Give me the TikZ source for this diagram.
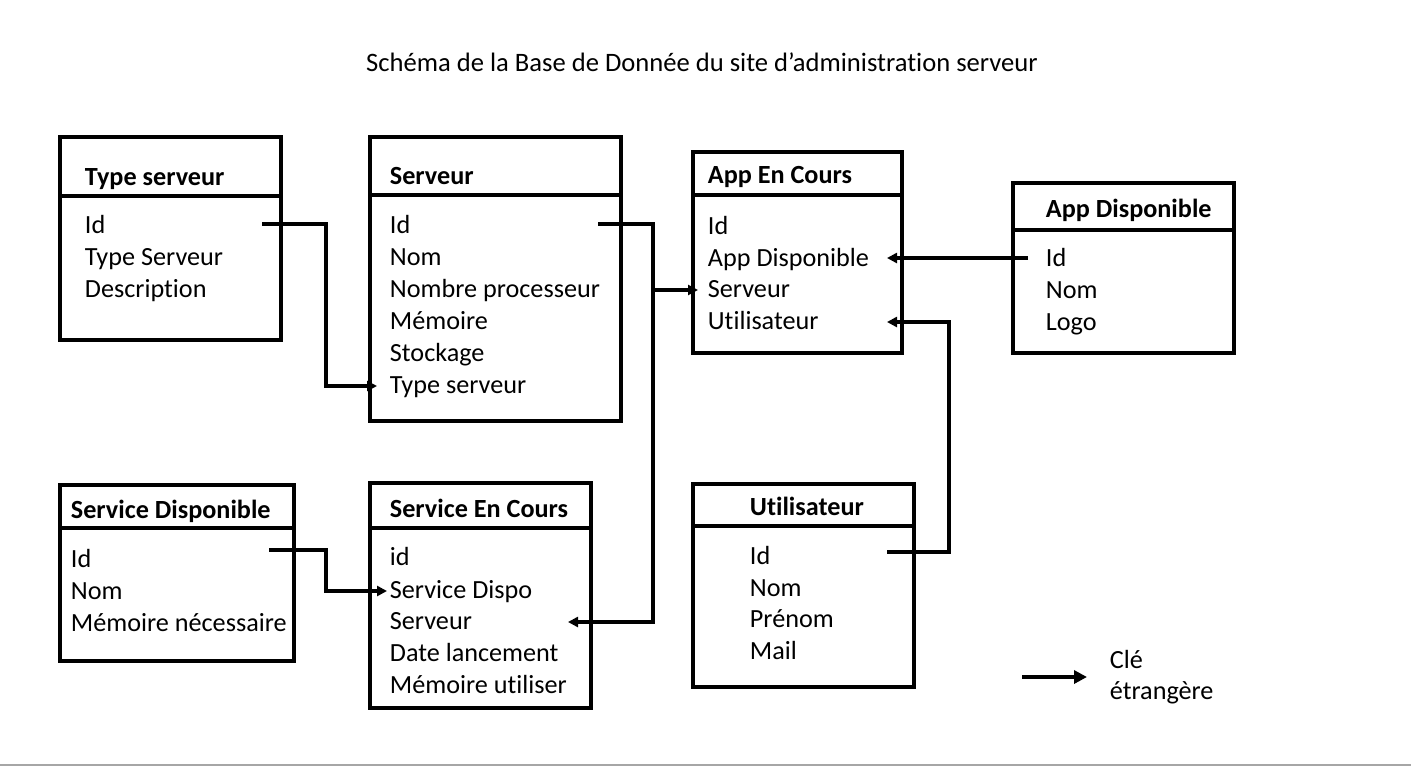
\documentclass[tikz,border=0pt]{standalone}
\usepackage{fontspec}
\setmainfont{Carlito}[Ligatures=NoCommon]
\usetikzlibrary{arrows.meta, positioning}

\begin{document}
\begin{tikzpicture}[x=1pt, y=-1pt, line width=3.8pt,
    table/.style={rectangle, draw, anchor=north west, inner sep=0pt, outer sep=0pt},
    head/.style={anchor=base west, inner sep=0pt, xshift=-2pt, font=\bfseries\fontsize{26.2}{30}\selectfont},
    field/.style={anchor=base west, inner sep=0pt, xshift=-2pt, text height=19pt, text depth=5pt, font=\fontsize{26.2}{30}\selectfont},
    fk/.style={-{Triangle[length=10pt, width=10pt]}}]
    \useasboundingbox (0,0) rectangle (1411,766);

    \node (title) [font=\fontsize{26.6}{30}\selectfont] at (702,62) {Schéma de la Base de Donnée du site d’administration serveur};

    % tables
    \node (ts) [table, minimum width=221pt, minimum height=203pt] at (60,137) {};
    \draw ([yshift=-59pt]ts.north west) -- ([yshift=-59pt]ts.north east);
    \node (tsHead) [head] at (85,185) {Type serveur};
    \node (tsId) [field] at (85,233) {Id};
    \node (tsType) [field] at (85,265) {Type Serveur};
    \node (tsDesc) [field] at (85,297) {Description};

    \node (srv) [table, minimum width=251pt, minimum height=284pt] at (370,137) {};
    \draw ([yshift=-58pt]srv.north west) -- ([yshift=-58pt]srv.north east);
    \node (srvHead) [head] at (390,184) {Serveur};
    \node (srvId) [field] at (390,233) {Id};
    \node (srvNom) [field] at (390,265) {Nom};
    \node (srvProc) [field] at (390,297) {Nombre processeur};
    \node (srvMem) [field] at (390,329) {Mémoire};
    \node (srvSto) [field] at (390,361) {Stockage};
    \node (srvType) [field] at (390,393) {Type serveur};

    \node (aec) [table, minimum width=209pt, minimum height=201pt] at (693,152) {};
    \draw ([yshift=-43pt]aec.north west) -- ([yshift=-43pt]aec.north east);
    \node (aecHead) [head] at (708,183) {App En Cours};
    \node (aecId) [field] at (708,234) {Id};
    \node (aecAd) [field] at (708,266) {App Disponible};
    \node (aecSrv) [field] at (708,297) {Serveur};
    \node (aecUser) [field] at (708,329) {Utilisateur};

    \node (ad) [table, minimum width=221pt, minimum height=170pt] at (1013,183) {};
    \draw ([yshift=-47pt]ad.north west) -- ([yshift=-47pt]ad.north east);
    \node (adHead) [head] at (1046,217) {App Disponible};
    \node (adId) [field] at (1046,266) {Id};
    \node (adNom) [field] at (1046,298) {Nom};
    \node (adLogo) [field] at (1046,330) {Logo};

    \node (sd) [table, minimum width=234pt, minimum height=176pt] at (60,485) {};
    \draw ([yshift=-43pt]sd.north west) -- ([yshift=-43pt]sd.north east);
    \node (sdHead) [head] at (71,518) {Service Disponible};
    \node (sdId) [field] at (71,567) {Id};
    \node (sdNom) [field] at (71,599) {Nom};
    \node (sdMem) [field] at (71,631) {Mémoire nécessaire};

    \node (sec) [table, minimum width=221pt, minimum height=225pt] at (370,483) {};
    \draw ([yshift=-45pt]sec.north west) -- ([yshift=-45pt]sec.north east);
    \node (secHead) [head] at (390,517) {Service En Cours};
    \node (secId) [field] at (390,565) {id};
    \node (secDispo) [field] at (390,598) {Service Dispo};
    \node (secSrv) [field] at (390,629) {Serveur};
    \node (secDate) [field] at (390,661) {Date lancement};
    \node (secMem) [field] at (390,693) {Mémoire utiliser};

    \node (user) [table, minimum width=221pt, minimum height=203pt] at (693,484) {};
    \draw ([yshift=-42pt]user.north west) -- ([yshift=-42pt]user.north east);
    \node (userHead) [head] at (750,515) {Utilisateur};
    \node (userId) [field] at (750,564) {Id};
    \node (userNom) [field] at (750,596) {Nom};
    \node (userPre) [field] at (750,627) {Prénom};
    \node (userMail) [field] at (750,659) {Mail};

    % foreign keys
    \draw[fk] ([xshift=179pt, yshift=2pt]tsId.west) -- ++(64,0) |- ([xshift=-11pt]srvType.west);
    \draw[fk] ([xshift=210pt, yshift=2pt]srvId.west) -- ++(55,0) coordinate (srvBus) |- ([xshift=180pt]secSrv.west);
    \draw[fk] (srvBus |- aecSrv.west) -- ([xshift=-8pt]aecSrv.west);
    \draw[fk] ([xshift=-16pt, yshift=1pt]adId.west) -- ([xshift=181pt, yshift=1pt]aecAd.west);
    \draw[fk] ([xshift=139pt, yshift=5pt]userId.west) -- ++(62,0) |- ([xshift=181pt]aecUser.west);
    \draw[fk] ([xshift=200pt, yshift=10pt]sdId.west) -- ++(57,0) |- ([xshift=-1pt]secDispo.west);

    % legend
    \node (legend) [anchor=west, align=left, inner sep=0pt, xshift=-2pt, font=\fontsize{26.2}{31}\selectfont] at (1110,677) {Clé\\étrangère};
    \draw[-{Triangle[length=13pt, width=13pt]}] ([xshift=-86pt]legend.west) -- ([xshift=-21pt]legend.west);

    \draw[gray!70, line width=1.5pt] (0,765) -- (1411,765);
\end{tikzpicture}
\end{document}
